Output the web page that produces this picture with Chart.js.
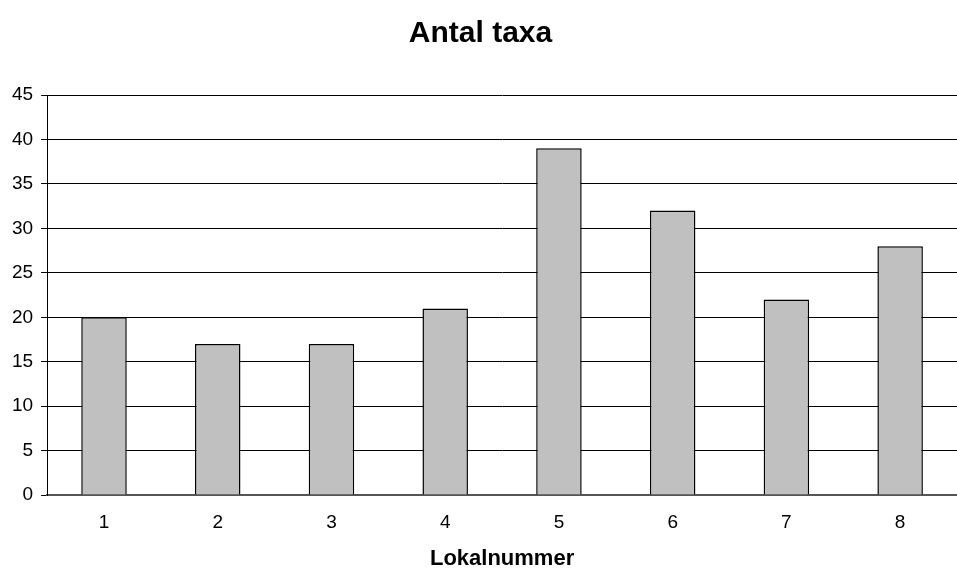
<!DOCTYPE html>
<html>
<head>
<meta charset="utf-8">
<script src="https://cdn.jsdelivr.net/npm/chart.js@4"></script>
<style>
  html, body { margin: 0; padding: 0; background: #fff; }
  #wrap { width: 957px; height: 568px; }
</style>
</head>
<body>
<div id="wrap"><canvas id="myChart" width="957" height="568"></canvas></div>
<script>
var lokaler = ['1', '2', '3', '4', '5', '6', '7', '8'];
var antalTaxa = [20, 17, 17, 21, 39, 32, 22, 28];
var yTicks = [0, 5, 10, 15, 20, 25, 30, 35, 40, 45];

var FONT = 'Arial, "Liberation Sans", sans-serif';
var ctx = document.getElementById('myChart').getContext('2d');

var myChart = new Chart(ctx, {
  type: 'bar',
  data: {
    labels: lokaler,
    datasets: [{
      label: 'Antal taxa',
      data: antalTaxa,
      backgroundColor: '#c0c0c0',
      borderColor: '#000000',
      borderWidth: 1.5,
      barPercentage: 0.4,
      categoryPercentage: 1.0
    }]
  },
  options: {
    responsive: false,
    animation: false,
    layout: { padding: { left: 4, right: 0, top: 0, bottom: 0 } },
    plugins: {
      legend: { display: false },
      tooltip: { enabled: false },
      title: {
        display: true,
        text: 'Antal taxa',
        color: '#000',
        font: { family: FONT, size: 30, weight: 'bold' },
        padding: { top: 16, bottom: 43 }
      }
    },
    scales: {
      x: {
        grid: { display: false, drawTicks: false },
        border: { color: '#555', width: 2 },
        ticks: {
          color: '#000',
          padding: 16,
          font: { family: FONT, size: 19 }
        },
        title: {
          display: true,
          text: 'Lokalnummer',
          color: '#000',
          font: { family: FONT, size: 22, weight: 'bold', lineHeight: 0.8 },
          padding: { top: 0.5, bottom: 0 }
        }
      },
      y: {
        min: 0,
        max: 45,
        afterBuildTicks: function (axis) {
          axis.ticks = yTicks.map(function (v) { return { value: v }; });
        },
        grid: { color: '#000', lineWidth: 1, tickLength: 6 },
        border: { color: '#000', width: 1 },
        ticks: {
          color: '#000',
          padding: 8,
          font: { family: FONT, size: 19 }
        }
      }
    }
  }
});
</script>
</body>
</html>
